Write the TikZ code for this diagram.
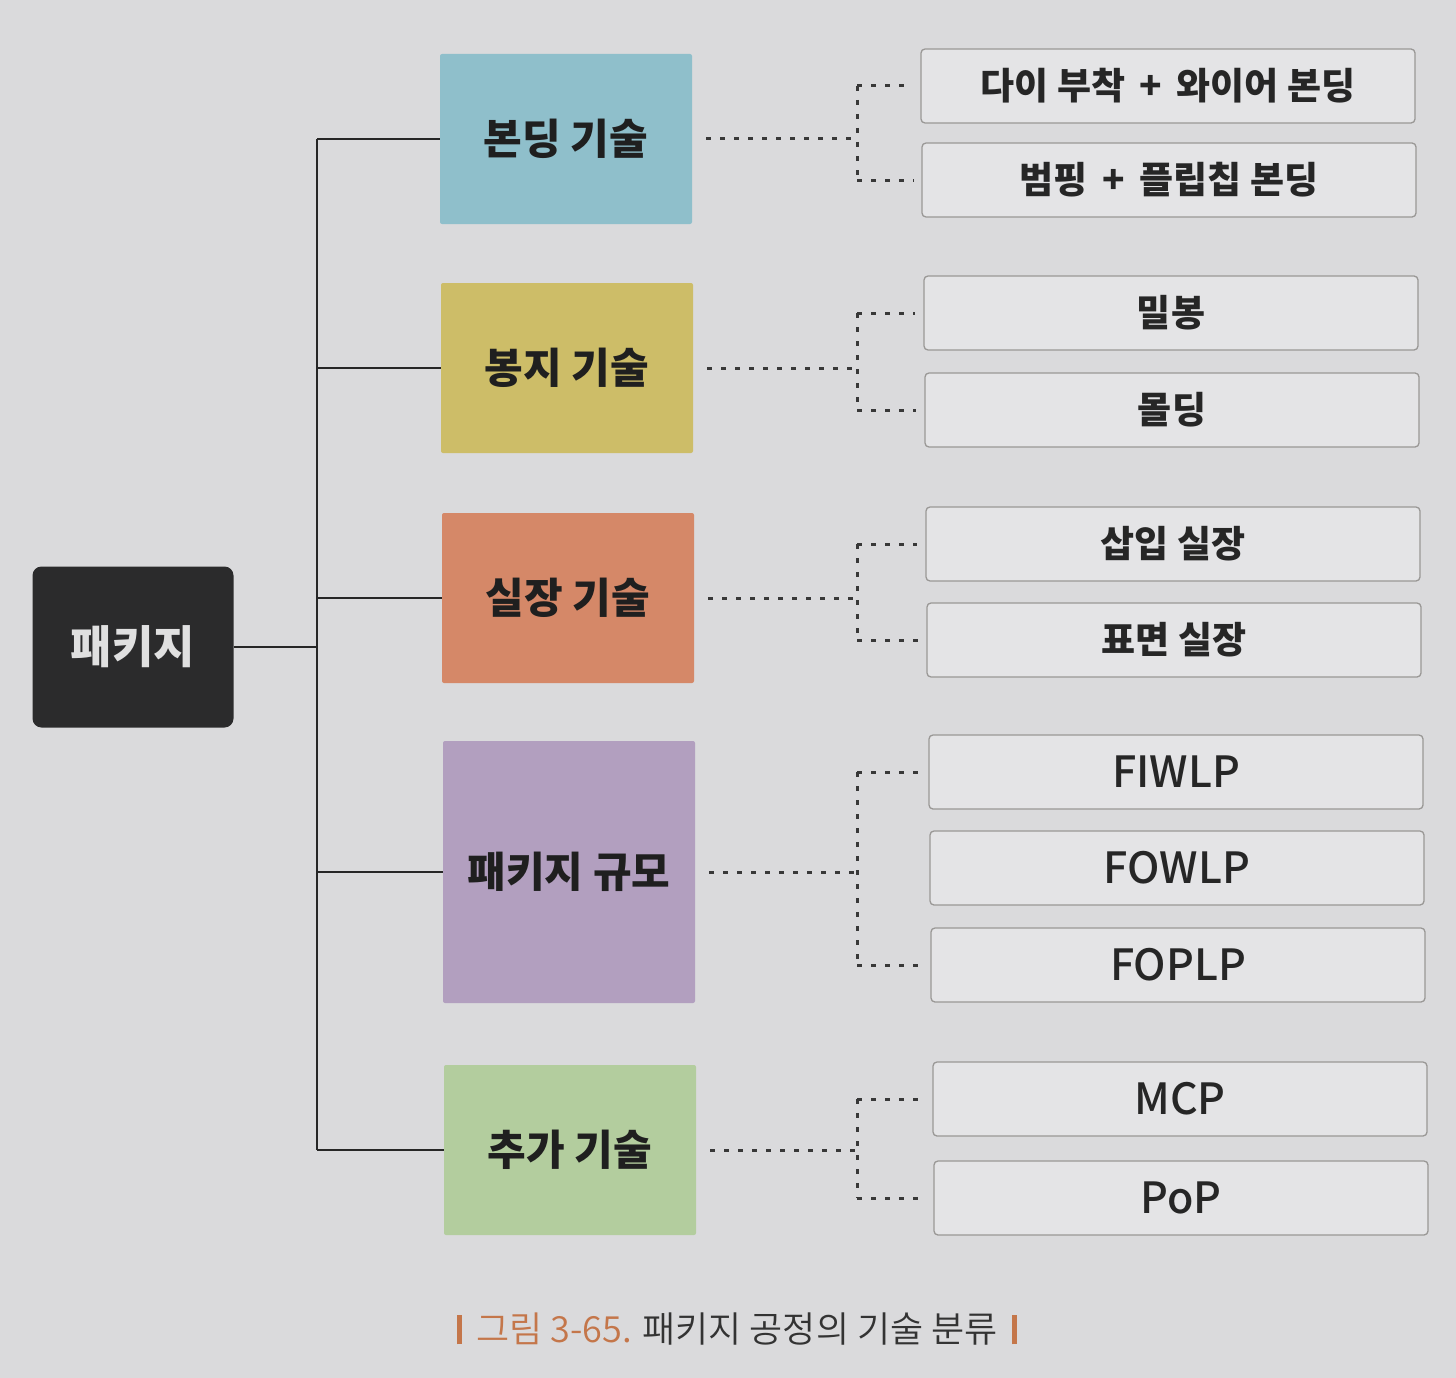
\documentclass[tikz,border=0pt]{standalone}
\usepackage{fontspec}
\newfontfamily\kr{Noto Sans CJK KR}
\newfontfamily\krm{Noto Sans CJK KR}[UprightFont={* Medium}]
\newfontfamily\krl{Noto Sans CJK KR}[UprightFont={* DemiLight}]
\usetikzlibrary{calc}
\definecolor{bgc}{HTML}{DADADC}
\definecolor{rootc}{HTML}{2B2B2C}
\definecolor{blu}{HTML}{8FBFCB}
\definecolor{yel}{HTML}{CDBD68}
\definecolor{sal}{HTML}{D58868}
\definecolor{pur}{HTML}{B29FBF}
\definecolor{grn}{HTML}{B3CD9E}
\definecolor{kidfill}{HTML}{E4E4E6}
\definecolor{kidline}{HTML}{9A9896}
\definecolor{capor}{HTML}{C4764A}
\begin{document}
\begin{tikzpicture}[x=1pt,y=-1pt,
  rootbox/.style={fill=rootc, rounded corners=9pt, minimum width=201pt, minimum height=161pt, inner sep=0pt,
    text=white!88!black, font=\kr\bfseries\fontsize{45}{48}\selectfont},
  catbox/.style={rounded corners=2pt, minimum width=252pt, minimum height=170pt, inner sep=0pt,
    text=black!88, font=\kr\bfseries\fontsize{42}{46}\selectfont},
  kidbox/.style={draw=kidline, line width=1.3pt, fill=kidfill, rounded corners=4pt, minimum width=494pt,
    minimum height=74pt, inner sep=0pt, text=black!85, font=\kr\bfseries\fontsize{37}{42}\selectfont},
  latkid/.style={kidbox, font=\krm\fontsize{43}{46}\selectfont},
  link/.style={line width=1.6pt, draw=black!85},
  dots/.style={line width=3pt, draw=black!78, dash pattern=on 5pt off 9pt},
]
\useasboundingbox[fill=bgc] (0,0) rectangle (1456,1378);

\node[rootbox] (root) at (133,647) {패키지};

\node[catbox, fill=blu] (c1) at (566,139) {본딩 기술};
\node[catbox, fill=yel] (c2) at (567,368) {봉지 기술};
\node[catbox, fill=sal] (c3) at (568,598) {실장 기술};
\node[catbox, fill=pur, minimum height=262pt] (c4) at (569,872) {패키지 규모};
\node[catbox, fill=grn] (c5) at (570,1150) {추가 기술};

\node[kidbox] (k11) at (1168,86) {다이 부착 \,+\, 와이어 본딩};
\node[kidbox] (k12) at (1169,180) {범핑 \,+\, 플립칩 본딩};
\node[kidbox] (k21) at (1171,313) {밀봉};
\node[kidbox] (k22) at (1172,410) {몰딩};
\node[kidbox] (k31) at (1173,544) {삽입 실장};
\node[kidbox] (k32) at (1174,640) {표면 실장};
\node[latkid] (k41) at (1176,772) {FIWLP};
\node[latkid] (k42) at (1177,868) {FOWLP};
\node[latkid] (k43) at (1178,965) {FOPLP};
\node[latkid] (k51) at (1180,1099) {MCP};
\node[latkid] (k52) at (1181,1198) {PoP};

% solid tree
\coordinate (tx) at (317,0);
\draw[link] (root.east) -- (root.east -| tx);
\draw[link] (c1.west -| tx) -- (c5.west -| tx);
\foreach \c in {c1,c2,c3,c4,c5} \draw[link] (\c.west -| tx) -- (\c.west);

% dotted branches
\coordinate (dx) at (857,0);
\foreach \c/\a/\b in {c1/k11/k12, c2/k21/k22, c3/k31/k32, c4/k41/k43, c5/k51/k52} {
  \draw[dots] ([xshift=14pt]\c.east) -- (\c.east -| dx);
  \draw[dots] (\a.west -| dx) -- (\b.west -| dx);
}
\foreach \k in {k11,k12,k21,k22,k31,k32,k41,k43,k51,k52}
  \draw[dots] (\k.west -| dx) -- ([xshift=-8pt]\k.west);

% caption
\node[inner sep=0pt, font=\krl\fontsize{36}{40}\selectfont] (cap) at (737,1329)
  {\textcolor{capor}{\rule[-2pt]{5pt}{29pt}\hspace{14pt}그림 3-65.} \textcolor{black!80}{패키지 공정의 기술 분류}\hspace{14pt}\textcolor{capor}{\rule[-2pt]{5pt}{29pt}}};
\end{tikzpicture}
\end{document}
